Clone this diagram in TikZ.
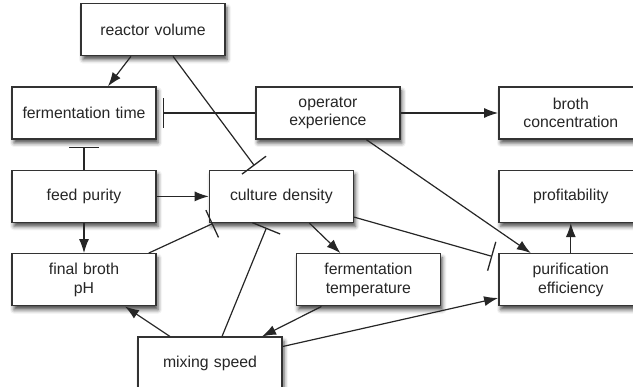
\documentclass[tikz,border=0pt]{standalone}
\usepackage{fontspec}
\setmainfont{Liberation Sans}
\usetikzlibrary{arrows.meta,positioning,shadows.blur}

\begin{document}
\begin{tikzpicture}[x=1pt, y=-1pt, node distance=30pt]
    \tikzstyle{factor}  = [draw=black!80, line width=1.4pt, fill=white, rectangle, minimum width=144pt, minimum height=52pt, text width=136pt, align=center, font=\fontsize{15.8}{18.6}\selectfont, text=black!85, blur shadow={shadow xshift=2pt, shadow yshift=-4pt, shadow blur radius=4pt, shadow opacity=70}]
    \tikzstyle{arrow}   = [line width=1.2pt, black!85, -{Latex[length=14pt, width=10pt]}]
    \tikzstyle{inhibit} = [line width=1.2pt, black!85, -{Bar[width=30pt, line width=1.3pt]}]

    \useasboundingbox (0,0) rectangle (633,387);

    % Top row
    \node [factor] (ftime) at (84,113) {fermentation time};
    \node [factor, above=of ftime, xshift=69pt] (rvol) {reactor volume};
    \node [factor, right=98.5pt of ftime] (oper) {operator\\experience};
    \node [factor, right=97.5pt of oper] (broth) {broth\\concentration};

    % Middle rows
    \node [factor, below=of ftime] (feed) {feed purity};
    \node [factor, right=52pt of feed] (dens) {culture density};
    \node [factor, below=of broth] (profit) {profitability};
    \node [factor, below=of feed] (ph) {final broth\\pH};
    \node [factor, below=of dens, xshift=87pt] (ftemp) {fermentation\\temperature};
    \node [factor, below=of profit] (purif) {purification\\efficiency};

    % Bottom
    \node [factor, below=of ph, xshift=126pt] (mix) {mixing speed};

    % Promoting links
    \draw [arrow] ([xshift=-22pt]rvol.south) -- ([xshift=24pt]ftime.north);
    \draw [arrow] (oper) -- (broth);
    \draw [arrow] ([xshift=38.5pt]oper.south) -- ([xshift=-40pt]purif.north);
    \draw [arrow] (feed) -- (dens);
    \draw [arrow] (feed) -- (ph);
    \draw [arrow] ([xshift=28pt]dens.south) -- ([xshift=-28pt]ftemp.north);
    \draw [arrow] (purif) -- (profit);
    \draw [arrow] ([xshift=-47pt]ftemp.south) -- ([xshift=52pt]mix.north);
    \draw [arrow] ([xshift=-40pt]mix.north) -- ([xshift=41pt]ph.south);
    \draw [arrow] ([yshift=-10pt]mix.north east) -- ([yshift=8.5pt]purif.south west);

    % Inhibiting links
    \draw [inhibit, shorten >=5pt] ([xshift=20pt]rvol.south) -- ([xshift=-24pt]dens.north);
    \draw [inhibit, shorten >=6pt] (oper) -- (ftime);
    \draw [inhibit, shorten >=7pt] (feed) -- (ftime);
    \draw [inhibit, shorten >=1pt] ([xshift=-8pt]ph.north east) -- ([xshift=5pt]dens.south west);
    \draw [inhibit, shorten >=5pt] ([xshift=12pt]mix.north) -- ([xshift=-13pt]dens.south);
    \draw [inhibit, shorten >=6pt] ([yshift=6pt]dens.south east) -- ([yshift=-5pt]purif.north west);
\end{tikzpicture}
\end{document}
